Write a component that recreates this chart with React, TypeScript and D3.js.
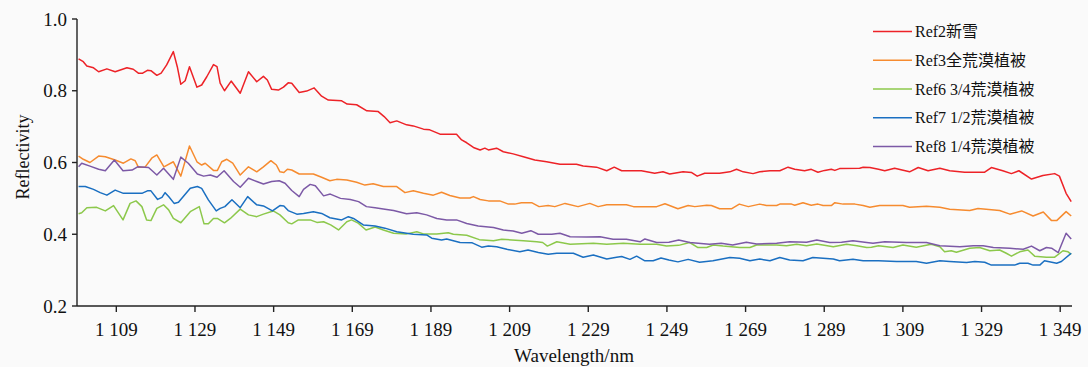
import React from "react";
import * as d3 from "d3";

// [wavelength nm, reflectivity]
const ref2: [number, number][] = [[1099.4,0.889],[1100.6,0.881],[1101.5,0.869],[1103.2,0.864],[1104.5,0.853],[1106.6,0.861],[1108.7,0.853],[1111.7,0.864],[1113.3,0.860],[1114.6,0.849],[1115.7,0.849],[1116.9,0.857],[1117.8,0.856],[1119.3,0.843],[1120.4,0.849],[1121.8,0.872],[1123.5,0.909],[1124.5,0.867],[1125.4,0.818],[1126.5,0.828],[1127.6,0.867],[1129.5,0.810],[1130.7,0.816],[1132.0,0.839],[1133.7,0.873],[1134.6,0.867],[1135.4,0.821],[1136.5,0.800],[1138.2,0.827],[1140.5,0.793],[1142.6,0.853],[1144.7,0.825],[1146.4,0.840],[1147.4,0.830],[1148.5,0.804],[1150.2,0.802],[1151.5,0.810],[1152.7,0.822],[1153.6,0.821],[1155.5,0.795],[1157.4,0.799],[1159.3,0.808],[1161.2,0.785],[1162.9,0.774],[1166.3,0.772],[1167.7,0.763],[1170.1,0.761],[1172.7,0.744],[1175.6,0.742],[1177.1,0.728],[1178.6,0.711],[1180.3,0.716],[1182.8,0.705],[1184.5,0.702],[1187.1,0.693],[1188.7,0.691],[1191.3,0.679],[1195.5,0.679],[1196.8,0.663],[1198.1,0.655],[1199.8,0.642],[1201.5,0.635],[1202.7,0.640],[1203.6,0.635],[1205.7,0.640],[1207.4,0.630],[1209.9,0.624],[1212.5,0.616],[1215.4,0.607],[1218.4,0.602],[1221.8,0.595],[1226.0,0.595],[1227.7,0.590],[1231.1,0.587],[1233.7,0.577],[1235.6,0.587],[1237.5,0.577],[1242.5,0.577],[1245.9,0.570],[1248.0,0.574],[1249.7,0.568],[1253.1,0.574],[1255.3,0.572],[1256.7,0.562],[1258.6,0.570],[1262.4,0.570],[1265.0,0.574],[1266.7,0.581],[1268.4,0.574],[1270.9,0.569],[1272.6,0.574],[1275.2,0.577],[1277.7,0.577],[1279.8,0.587],[1281.5,0.581],[1284.0,0.577],[1285.7,0.581],[1287.4,0.573],[1289.1,0.578],[1290.8,0.581],[1291.7,0.578],[1292.9,0.583],[1298.0,0.584],[1298.9,0.587],[1300.6,0.586],[1302.8,0.581],[1304.4,0.577],[1306.9,0.584],[1310.7,0.574],[1312.9,0.586],[1315.4,0.577],[1318.4,0.584],[1320.9,0.577],[1324.7,0.573],[1329.8,0.573],[1331.5,0.586],[1334.4,0.577],[1336.6,0.569],[1338.5,0.577],[1341.7,0.554],[1344.6,0.564],[1347.6,0.569],[1348.8,0.562],[1350.5,0.514],[1351.8,0.491]];

const ref3: [number, number][] = [[1099.4,0.618],[1100.6,0.609],[1102.3,0.600],[1104.5,0.618],[1106.2,0.616],[1108.7,0.607],[1110.8,0.598],[1112.7,0.610],[1113.8,0.605],[1114.6,0.587],[1116.3,0.587],[1118.0,0.612],[1119.3,0.621],[1121.1,0.588],[1123.5,0.602],[1125.4,0.562],[1127.6,0.646],[1129.5,0.602],[1130.7,0.593],[1131.6,0.598],[1133.7,0.578],[1134.7,0.578],[1135.8,0.602],[1137.1,0.609],[1138.6,0.598],[1140.5,0.565],[1142.6,0.588],[1144.7,0.574],[1146.4,0.588],[1148.3,0.605],[1149.7,0.593],[1150.6,0.574],[1151.6,0.572],[1152.5,0.581],[1153.6,0.579],[1155.5,0.568],[1159.1,0.568],[1161.2,0.559],[1163.3,0.549],[1165.0,0.553],[1167.6,0.551],[1170.1,0.545],[1172.2,0.537],[1174.3,0.541],[1176.9,0.533],[1180.3,0.533],[1182.4,0.516],[1184.5,0.521],[1187.1,0.514],[1189.6,0.509],[1191.7,0.517],[1193.8,0.508],[1196.4,0.501],[1198.9,0.501],[1199.8,0.505],[1201.5,0.497],[1203.6,0.493],[1206.5,0.493],[1208.7,0.484],[1210.3,0.484],[1212.0,0.488],[1214.6,0.488],[1216.5,0.477],[1218.8,0.480],[1220.5,0.477],[1223.1,0.486],[1226.4,0.477],[1229.4,0.486],[1231.5,0.477],[1233.7,0.482],[1238.7,0.482],[1240.5,0.477],[1246.4,0.477],[1248.5,0.485],[1251.8,0.471],[1254.4,0.480],[1256.1,0.477],[1259.1,0.481],[1260.3,0.480],[1262.4,0.471],[1265.4,0.471],[1267.4,0.484],[1269.7,0.477],[1272.6,0.484],[1274.3,0.480],[1276.9,0.480],[1277.7,0.484],[1280.7,0.484],[1281.5,0.481],[1283.6,0.488],[1285.7,0.481],[1287.4,0.484],[1288.7,0.480],[1290.8,0.480],[1291.7,0.488],[1293.8,0.484],[1296.8,0.484],[1298.9,0.480],[1300.6,0.475],[1303.1,0.480],[1309.0,0.480],[1310.7,0.475],[1315.0,0.478],[1318.4,0.475],[1320.9,0.470],[1326.0,0.466],[1328.1,0.472],[1333.6,0.466],[1336.2,0.456],[1339.2,0.465],[1342.1,0.451],[1344.7,0.462],[1346.8,0.438],[1348.1,0.438],[1350.5,0.463],[1351.8,0.451]];

const ref6: [number, number][] = [[1099.4,0.457],[1100.2,0.460],[1101.5,0.474],[1104.0,0.475],[1106.2,0.465],[1108.3,0.480],[1110.7,0.440],[1112.5,0.486],[1114.0,0.493],[1115.5,0.477],[1116.7,0.440],[1117.8,0.438],[1119.3,0.472],[1121.0,0.482],[1122.3,0.468],[1123.5,0.444],[1125.4,0.432],[1127.8,0.463],[1130.1,0.477],[1131.3,0.429],[1132.4,0.429],[1133.7,0.444],[1134.7,0.444],[1136.5,0.432],[1138.0,0.444],[1140.5,0.470],[1142.6,0.454],[1144.7,0.449],[1146.4,0.456],[1148.9,0.465],[1150.6,0.454],[1152.7,0.432],[1153.6,0.429],[1155.3,0.440],[1158.3,0.440],[1160.0,0.433],[1161.7,0.435],[1163.5,0.426],[1165.5,0.412],[1167.6,0.435],[1168.8,0.440],[1170.5,0.431],[1172.5,0.412],[1174.8,0.420],[1176.9,0.412],[1179.5,0.403],[1182.8,0.401],[1185.4,0.407],[1187.1,0.401],[1190.5,0.401],[1193.4,0.404],[1194.7,0.400],[1198.1,0.397],[1201.3,0.385],[1204.9,0.382],[1207.0,0.386],[1212.5,0.382],[1215.9,0.379],[1217.4,0.377],[1218.6,0.367],[1221.0,0.379],[1224.4,0.372],[1230.3,0.375],[1233.7,0.372],[1237.9,0.375],[1242.2,0.372],[1246.4,0.372],[1248.9,0.367],[1252.0,0.369],[1254.8,0.377],[1256.9,0.363],[1259.1,0.363],[1260.8,0.370],[1263.3,0.367],[1267.5,0.363],[1270.1,0.363],[1271.8,0.370],[1276.9,0.370],[1279.4,0.368],[1282.0,0.372],[1284.5,0.368],[1287.1,0.373],[1291.3,0.365],[1294.7,0.372],[1297.3,0.368],[1299.8,0.363],[1301.0,0.364],[1302.8,0.368],[1306.5,0.363],[1309.0,0.370],[1312.4,0.364],[1316.2,0.372],[1318.4,0.365],[1319.6,0.351],[1321.3,0.354],[1322.6,0.350],[1326.0,0.361],[1328.5,0.363],[1331.1,0.354],[1333.6,0.356],[1335.3,0.347],[1336.6,0.339],[1338.7,0.351],[1340.8,0.356],[1342.5,0.339],[1345.5,0.336],[1347.6,0.336],[1349.7,0.354],[1351.0,0.351],[1351.8,0.344]];

const ref7: [number, number][] = [[1099.4,0.533],[1101.1,0.533],[1103.2,0.525],[1104.9,0.516],[1106.6,0.509],[1108.7,0.523],[1110.8,0.514],[1115.5,0.514],[1116.9,0.521],[1117.8,0.521],[1119.5,0.497],[1120.6,0.503],[1121.4,0.516],[1122.3,0.505],[1123.7,0.486],[1124.8,0.489],[1127.8,0.528],[1129.6,0.533],[1130.7,0.528],[1132.4,0.496],[1134.4,0.465],[1135.4,0.472],[1136.6,0.477],[1138.4,0.496],[1140.5,0.474],[1142.4,0.505],[1144.7,0.482],[1146.4,0.479],[1148.7,0.465],[1150.6,0.480],[1151.6,0.479],[1152.7,0.466],[1154.9,0.456],[1156.6,0.458],[1159.1,0.463],[1161.2,0.458],[1163.3,0.446],[1166.3,0.440],[1168.0,0.449],[1169.3,0.444],[1171.8,0.426],[1174.8,0.423],[1177.3,0.417],[1180.3,0.407],[1182.8,0.403],[1184.5,0.400],[1187.9,0.398],[1189.2,0.389],[1191.7,0.384],[1193.0,0.387],[1196.4,0.377],[1199.5,0.376],[1201.9,0.364],[1203.6,0.367],[1205.7,0.365],[1208.3,0.358],[1211.6,0.351],[1213.7,0.356],[1216.3,0.349],[1218.8,0.344],[1221.0,0.347],[1225.2,0.347],[1227.7,0.336],[1230.3,0.342],[1233.7,0.331],[1236.2,0.336],[1237.5,0.338],[1239.6,0.330],[1241.3,0.339],[1243.4,0.326],[1245.5,0.326],[1247.5,0.334],[1249.5,0.328],[1251.8,0.323],[1254.4,0.330],[1257.3,0.322],[1260.7,0.326],[1265.0,0.335],[1267.5,0.333],[1270.1,0.326],[1272.6,0.331],[1275.2,0.326],[1277.7,0.335],[1280.2,0.328],[1283.6,0.326],[1286.1,0.335],[1291.3,0.331],[1292.9,0.326],[1296.3,0.330],[1298.9,0.326],[1302.8,0.326],[1307.4,0.324],[1312.4,0.324],[1315.0,0.319],[1318.4,0.326],[1320.9,0.324],[1325.2,0.321],[1327.3,0.324],[1329.8,0.322],[1331.5,0.314],[1337.4,0.314],[1338.7,0.319],[1340.8,0.319],[1342.1,0.314],[1343.8,0.314],[1345.0,0.326],[1348.1,0.319],[1349.3,0.324],[1351.8,0.347]];

const ref8: [number, number][] = [[1099.4,0.588],[1100.2,0.598],[1102.3,0.590],[1104.5,0.581],[1106.2,0.577],[1108.5,0.607],[1110.7,0.577],[1113.0,0.579],[1114.4,0.588],[1117.2,0.586],[1119.3,0.565],[1121.0,0.584],[1123.5,0.553],[1125.4,0.615],[1127.3,0.598],[1129.6,0.568],[1131.2,0.562],[1132.9,0.565],[1134.6,0.559],[1136.4,0.577],[1138.8,0.547],[1140.5,0.531],[1142.6,0.556],[1144.7,0.547],[1146.4,0.540],[1148.5,0.547],[1150.4,0.549],[1151.9,0.542],[1153.6,0.522],[1155.5,0.505],[1156.6,0.525],[1158.3,0.539],[1159.6,0.535],[1161.7,0.507],[1163.4,0.512],[1166.0,0.500],[1168.5,0.497],[1170.6,0.491],[1172.6,0.477],[1174.8,0.474],[1177.3,0.470],[1179.5,0.466],[1182.8,0.457],[1185.4,0.460],[1187.9,0.454],[1190.5,0.444],[1193.0,0.440],[1195.5,0.440],[1198.1,0.430],[1201.0,0.423],[1204.9,0.419],[1207.4,0.412],[1209.9,0.409],[1212.1,0.403],[1214.4,0.410],[1216.3,0.400],[1219.7,0.400],[1221.8,0.403],[1224.4,0.393],[1228.6,0.392],[1232.0,0.393],[1235.3,0.386],[1238.7,0.386],[1242.2,0.379],[1243.4,0.387],[1246.4,0.377],[1249.5,0.378],[1252.0,0.384],[1254.8,0.377],[1259.8,0.372],[1262.8,0.375],[1265.7,0.370],[1269.2,0.378],[1271.8,0.373],[1276.9,0.375],[1280.2,0.379],[1284.5,0.378],[1287.1,0.384],[1290.4,0.377],[1293.4,0.378],[1296.3,0.382],[1299.8,0.377],[1301.4,0.375],[1304.4,0.379],[1309.9,0.377],[1315.0,0.377],[1318.4,0.368],[1323.5,0.365],[1326.9,0.368],[1329.4,0.368],[1332.0,0.363],[1336.2,0.361],[1339.6,0.358],[1341.7,0.367],[1343.8,0.354],[1345.5,0.363],[1346.8,0.361],[1348.5,0.349],[1350.5,0.403],[1351.8,0.387]];

const seriesNames = ["Ref2新雪", "Ref3全荒漠植被", "Ref6 3/4荒漠植被", "Ref7 1/2荒漠植被", "Ref8 1/4荒漠植被"];
const seriesColors = ["#ed2227", "#f68b2f", "#8cc84b", "#1a6fc1", "#7c59a6"];
const seriesData = [ref2, ref3, ref6, ref7, ref8];

const xTicks = [1109, 1129, 1149, 1169, 1189, 1209, 1229, 1249, 1269, 1289, 1309, 1329, 1349];
const yTicks = [0.2, 0.4, 0.6, 0.8, 1.0];
const xDomain: [number, number] = [1099, 1352];
const yDomain: [number, number] = [0.2, 1.0];

const W = 1088, H = 367;
const FONT = "'Times New Roman', 'Liberation Serif', 'Noto Sans CJK SC', serif";

export default function App() {
  const x = d3.scaleLinear().domain(xDomain).range([77, 1072]);
  const y = d3.scaleLinear().domain(yDomain).range([306, 19]);
  const line = d3.line<[number, number]>().x(d => x(d[0])).y(d => y(d[1]));
  const fmtX = (v: number) => `${Math.floor(v / 1000)} ${String(v % 1000).padStart(3, "0")}`;
  const fmtY = d3.format(".1f");
  const [x0, x1] = x.range();
  const [yb, yt] = y.range();

  return (
    <svg width={W} height={H} style={{ position: "absolute", left: 0, top: 0, background: "#fafafa" }} fontFamily={FONT}>
      <rect x={0} y={0} width={W} height={H} fill="#fafafa" />
      {seriesData.map((d, i) => (
        <path key={i} d={line(d) || ""} fill="none" stroke={seriesColors[i]} strokeWidth={1.5} strokeLinejoin="round" />
      ))}
      {/* axes */}
      <line x1={x0} x2={x0} y1={yt} y2={yb} stroke="#222" strokeWidth={1.4} />
      <line x1={x0} x2={x1} y1={yb} y2={yb} stroke="#222" strokeWidth={1.4} />
      {yTicks.map(t => (
        <g key={t}>
          <line x1={x0 - 5} x2={x0} y1={y(t)} y2={y(t)} stroke="#222" strokeWidth={1.4} />
          <text x={x0 - 10} y={y(t)} textAnchor="end" dominantBaseline="central" fontSize={19} fill="#111">{fmtY(t)}</text>
        </g>
      ))}
      {xTicks.map(t => (
        <g key={t}>
          <line x1={x(t)} x2={x(t)} y1={yb} y2={yb + 6} stroke="#222" strokeWidth={1.4} />
          <text x={x(t)} y={336} textAnchor="middle" fontSize={19} fill="#111">{fmtX(t)}</text>
        </g>
      ))}
      <text x={574} y={362} textAnchor="middle" fontSize={19} fill="#111">Wavelength/nm</text>
      <text transform="translate(29,157) rotate(-90)" textAnchor="middle" fontSize={18} fill="#111">Reflectivity</text>
      {/* legend */}
      {seriesNames.map((n, i) => {
        const ly = 31.5 + i * 28.75;
        return (
          <g key={n}>
            <line x1={873} x2={912} y1={ly} y2={ly} stroke={seriesColors[i]} strokeWidth={1.5} />
            <text x={915} y={ly} dominantBaseline="central" fontSize={16} fill="#111">{n}</text>
          </g>
        );
      })}
    </svg>
  );
}
